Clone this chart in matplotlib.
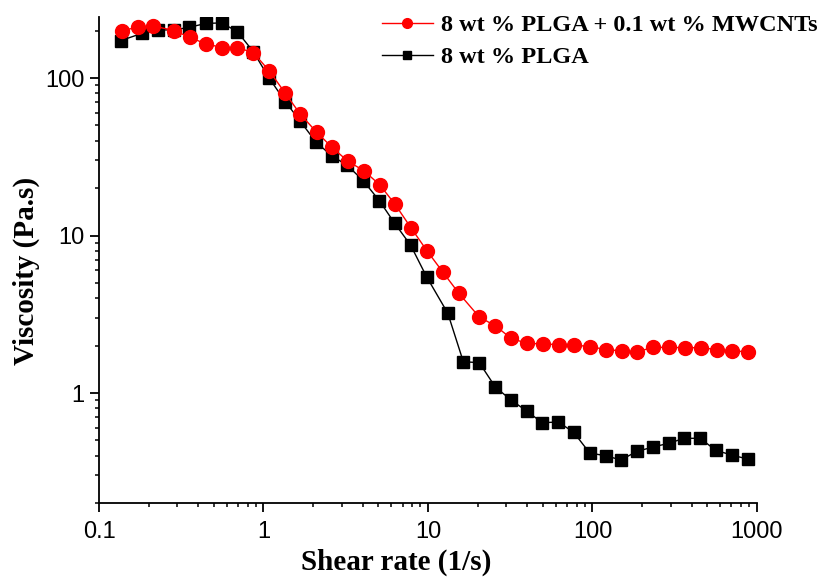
import numpy as np
import matplotlib
matplotlib.use("Agg")
import matplotlib.pyplot as plt
from matplotlib.ticker import LogLocator, NullFormatter, FixedLocator, FixedFormatter

# shear rate (1/s) and viscosity (Pa.s)
rate_cnt = [0.137, 0.172, 0.214, 0.287, 0.357, 0.445, 0.562, 0.693, 0.867, 1.084,
            1.357, 1.674, 2.10, 2.61, 3.25, 4.07, 5.09, 6.30, 7.88, 9.86,
            12.3, 15.4, 20.5, 25.7, 32.1, 40.0, 49.8, 62.3, 77.2, 96.6,
            120.8, 150.5, 187, 234, 292, 365, 455, 569, 705, 878]
visc_cnt = [200, 210, 214, 200, 181, 165, 156, 156, 145, 111,
            80, 58.9, 45.4, 36.3, 29.7, 25.8, 21.0, 15.8, 11.2, 8.0,
            5.87, 4.30, 3.04, 2.67, 2.22, 2.07, 2.05, 2.03, 2.02, 1.97,
            1.89, 1.85, 1.83, 1.95, 1.95, 1.94, 1.94, 1.89, 1.85, 1.83]

rate_plga = [0.136, 0.182, 0.229, 0.287, 0.354, 0.445, 0.557, 0.693, 0.867, 1.084,
             1.357, 1.674, 2.09, 2.60, 3.23, 4.04, 5.07, 6.26, 7.85, 9.81,
             13.2, 16.4, 20.5, 25.7, 32.0, 39.8, 49.5, 62.0, 76.9, 96.2,
             120.3, 149, 186, 233, 291, 361, 452, 561, 703, 878]
visc_plga = [173, 192, 202, 202, 210, 222, 224, 197, 147, 99.6,
             70.9, 53.1, 39.1, 32.1, 27.9, 22.3, 16.6, 12.0, 8.67, 5.47,
             3.21, 1.58, 1.56, 1.09, 0.903, 0.769, 0.648, 0.655, 0.563, 0.416,
             0.400, 0.376, 0.426, 0.454, 0.480, 0.516, 0.516, 0.433, 0.404, 0.381]

label_cnt = "8 wt % PLGA + 0.1 wt % MWCNTs"
label_plga = "8 wt % PLGA"

serif = "Liberation Serif"
sans = "Liberation Sans"

fig = plt.figure(figsize=(8.21, 5.77), dpi=100)
ax = fig.add_axes([0.1206, 0.128, 0.8014, 0.843])

l2, = ax.plot(rate_plga, visc_plga, color="black", lw=1, marker="s", ms=8.5,
              label=label_plga, zorder=2)
l1, = ax.plot(rate_cnt, visc_cnt, color="red", lw=1, marker="o", ms=10,
              label=label_cnt, zorder=3)

ax.set_xscale("log")
ax.set_yscale("log")
ax.set_xlim(0.1, 1000)
ax.set_ylim(0.2, 245)

ax.spines["top"].set_visible(False)
ax.spines["right"].set_visible(False)
for s in ["left", "bottom"]:
    ax.spines[s].set_linewidth(1.3)

ax.xaxis.set_major_locator(FixedLocator([0.1, 1, 10, 100, 1000]))
ax.xaxis.set_major_formatter(FixedFormatter(["0.1", "1", "10", "100", "1000"]))
ax.xaxis.set_minor_locator(LogLocator(base=10, subs=np.arange(2, 10), numticks=20))
ax.xaxis.set_minor_formatter(NullFormatter())
ax.yaxis.set_major_locator(FixedLocator([1, 10, 100]))
ax.yaxis.set_major_formatter(FixedFormatter(["1", "10", "100"]))
ax.yaxis.set_minor_locator(LogLocator(base=10, subs=np.arange(2, 10), numticks=20))
ax.yaxis.set_minor_formatter(NullFormatter())

ax.tick_params(which="major", direction="out", length=6.5, width=1.3, labelsize=17, pad=6)
ax.tick_params(which="minor", direction="out", length=3, width=1.1)
ax.tick_params(axis="y", which="major", pad=4)
for t in ax.get_xticklabels() + ax.get_yticklabels():
    t.set_fontfamily(sans)

ax.set_xlabel("Shear rate (1/s)", fontfamily=serif, fontweight="bold", fontsize=21)
ax.set_ylabel("Viscosity (Pa.s)", fontfamily=serif, fontweight="bold", fontsize=21)
ax.xaxis.set_label_coords(0.451, -0.094)
ax.yaxis.set_label_coords(-0.089, 0.477)

leg = ax.legend(handles=[l1, l2], loc="upper right", bbox_to_anchor=(1.126, 1.05),
                frameon=False, prop={"family": serif, "weight": "bold", "size": 17.5},
                handlelength=2.13, handletextpad=0.33, labelspacing=0.4, markerscale=0.7)

fig.savefig("out.png", dpi=100)
